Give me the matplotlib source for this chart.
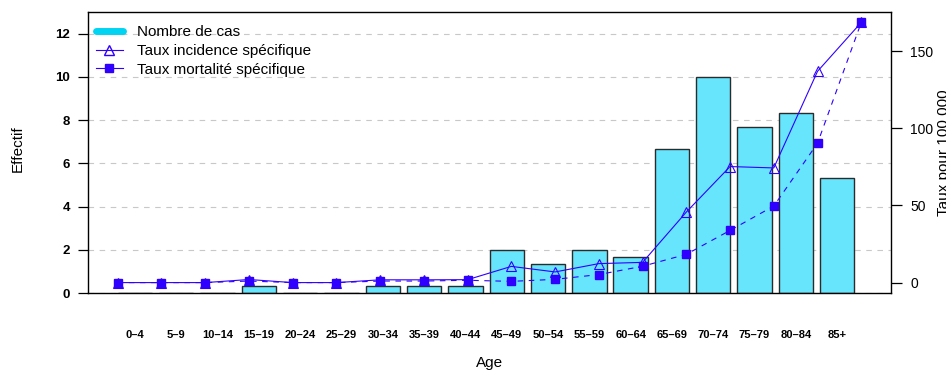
# Cases and age-specific rates by age group

import numpy as np
import matplotlib.pyplot as plt
from matplotlib.lines import Line2D

plt.rcParams['font.family'] = ['Liberation Sans', 'DejaVu Sans']


# 1. DATA

ages = ["0–4", "5–9", "10–14", "15–19", "20–24", "25–29", "30–34", "35–39",
        "40–44", "45–49", "50–54", "55–59", "60–64", "65–69", "70–74",
        "75–79", "80–84", "85+"]

cases = [0, 0, 0, 0.333, 0, 0, 0.333, 0.333, 0.333, 2, 1.333, 2, 1.667,
         6.667, 10, 7.667, 8.333, 5.333]

incidence = [0, 0, 0, 2.0, 0, 0, 1.8, 1.8, 1.9, 10.5, 6.9, 12.3, 13.1,
             45.7, 75.2, 74.3, 136.9, 168.6]

mortality = [0, 0, 0, 1.0, 0, 0, 1.0, 1.0, 1.5, 0.8, 2.1, 5.2, 10.6,
             18.3, 33.8, 49.6, 90.3, 168.6]

bar_fill = "#66E5FD"
legend_cyan = "#00D4F2"
line_blue = "#3000FF"


# 2. FIGURE

fig = plt.figure(figsize=(9.46, 3.73), dpi=100)
W, H = 946, 373
box = [88 / W, 1 - 293 / H, (891 - 88) / W, (293 - 12) / H]
ax = fig.add_axes(box)

# bars laid out like R barplot (width 1, space 0.2)
n = len(ages)
centers = 0.7 + 1.2 * np.arange(n)
left_edge, right_edge = 0.2, 0.2 + 1.2 * n
pad = 0.04 * (right_edge - left_edge)
ax.set_xlim(left_edge - pad, right_edge + pad)
ax.set_ylim(0, 13)

yt = np.arange(0, 13, 2)
for v in yt:
    ax.axhline(v, color="#c8c8c8", lw=0.8, ls=(0, (5, 5)), zorder=0)

ax.bar(centers, cases, width=1.0, color=bar_fill, edgecolor="#2b2b2b",
       linewidth=1.0, zorder=2)

ax.set_yticks(yt)
ax.set_yticklabels([str(v) for v in yt], fontsize=9.5, fontweight="bold")
ax.tick_params(axis="y", length=7, width=0.9, pad=6)
ax.set_xticks(centers)
ax.set_xticklabels(ages, fontsize=8, fontweight="bold")
ax.tick_params(axis="x", length=0, pad=27)
for s in ax.spines.values():
    s.set_linewidth(1.0)

# rates on their own axes (x = 1..n, R style 4% padding)
ax2 = fig.add_axes(box)
ax2.patch.set_visible(False)
xs = np.arange(1, n + 1)
ax2.set_xlim(1 - 0.04 * (n - 1), n + 0.04 * (n - 1))
lo = min(min(incidence), min(mortality))
hi = max(max(incidence), max(mortality))
ax2.set_ylim(lo - 0.04 * (hi - lo), hi + 0.04 * (hi - lo))

ax2.plot(xs, incidence, color=line_blue, lw=0.8, marker="^", ms=7,
         mfc="none", mec=line_blue, mew=0.8, zorder=3)
ax2.plot(xs, mortality, color=line_blue, lw=0.8, ls=(0, (5, 5)),
         marker="s", ms=6, mfc=line_blue, mec=line_blue, zorder=3)

ax2.xaxis.set_visible(False)
ax2.yaxis.tick_right()
ax2.set_yticks([0, 50, 100, 150])
ax2.tick_params(axis="y", length=8, width=0.9, pad=6, labelsize=10)
for s in ax2.spines.values():
    s.set_visible(False)


# 3. TEXTS

fig.text(18 / W, 1 - 149 / H, "Effectif", rotation=90, ha="center",
         va="center", fontsize=11)
fig.text(490 / W, 1 - 363 / H, "Age", ha="center", va="center", fontsize=11)
fig.text(937 / W, 1 - 152.5 / H, "Taux pour 100 000", rotation=90,
         ha="left", va="center", fontsize=11)

handles = [
    Line2D([], [], color=legend_cyan, lw=5, solid_capstyle="round"),
    Line2D([], [], color=line_blue, lw=0.8, marker="^", ms=7, mfc="none",
           mec=line_blue),
    Line2D([], [], color=line_blue, lw=0.8, marker="s", ms=6),
]
labels = ["Nombre de cas", "Taux incidence spécifique",
          "Taux mortalité spécifique"]
fig.legend(handles, labels, loc="upper left",
           bbox_to_anchor=(96 / W, 1 - 25 / H), frameon=False,
           fontsize=11, handlelength=1.75, handletextpad=0.95,
           labelspacing=0.32, borderpad=0, borderaxespad=0)

fig.savefig("out.png", dpi=100)
